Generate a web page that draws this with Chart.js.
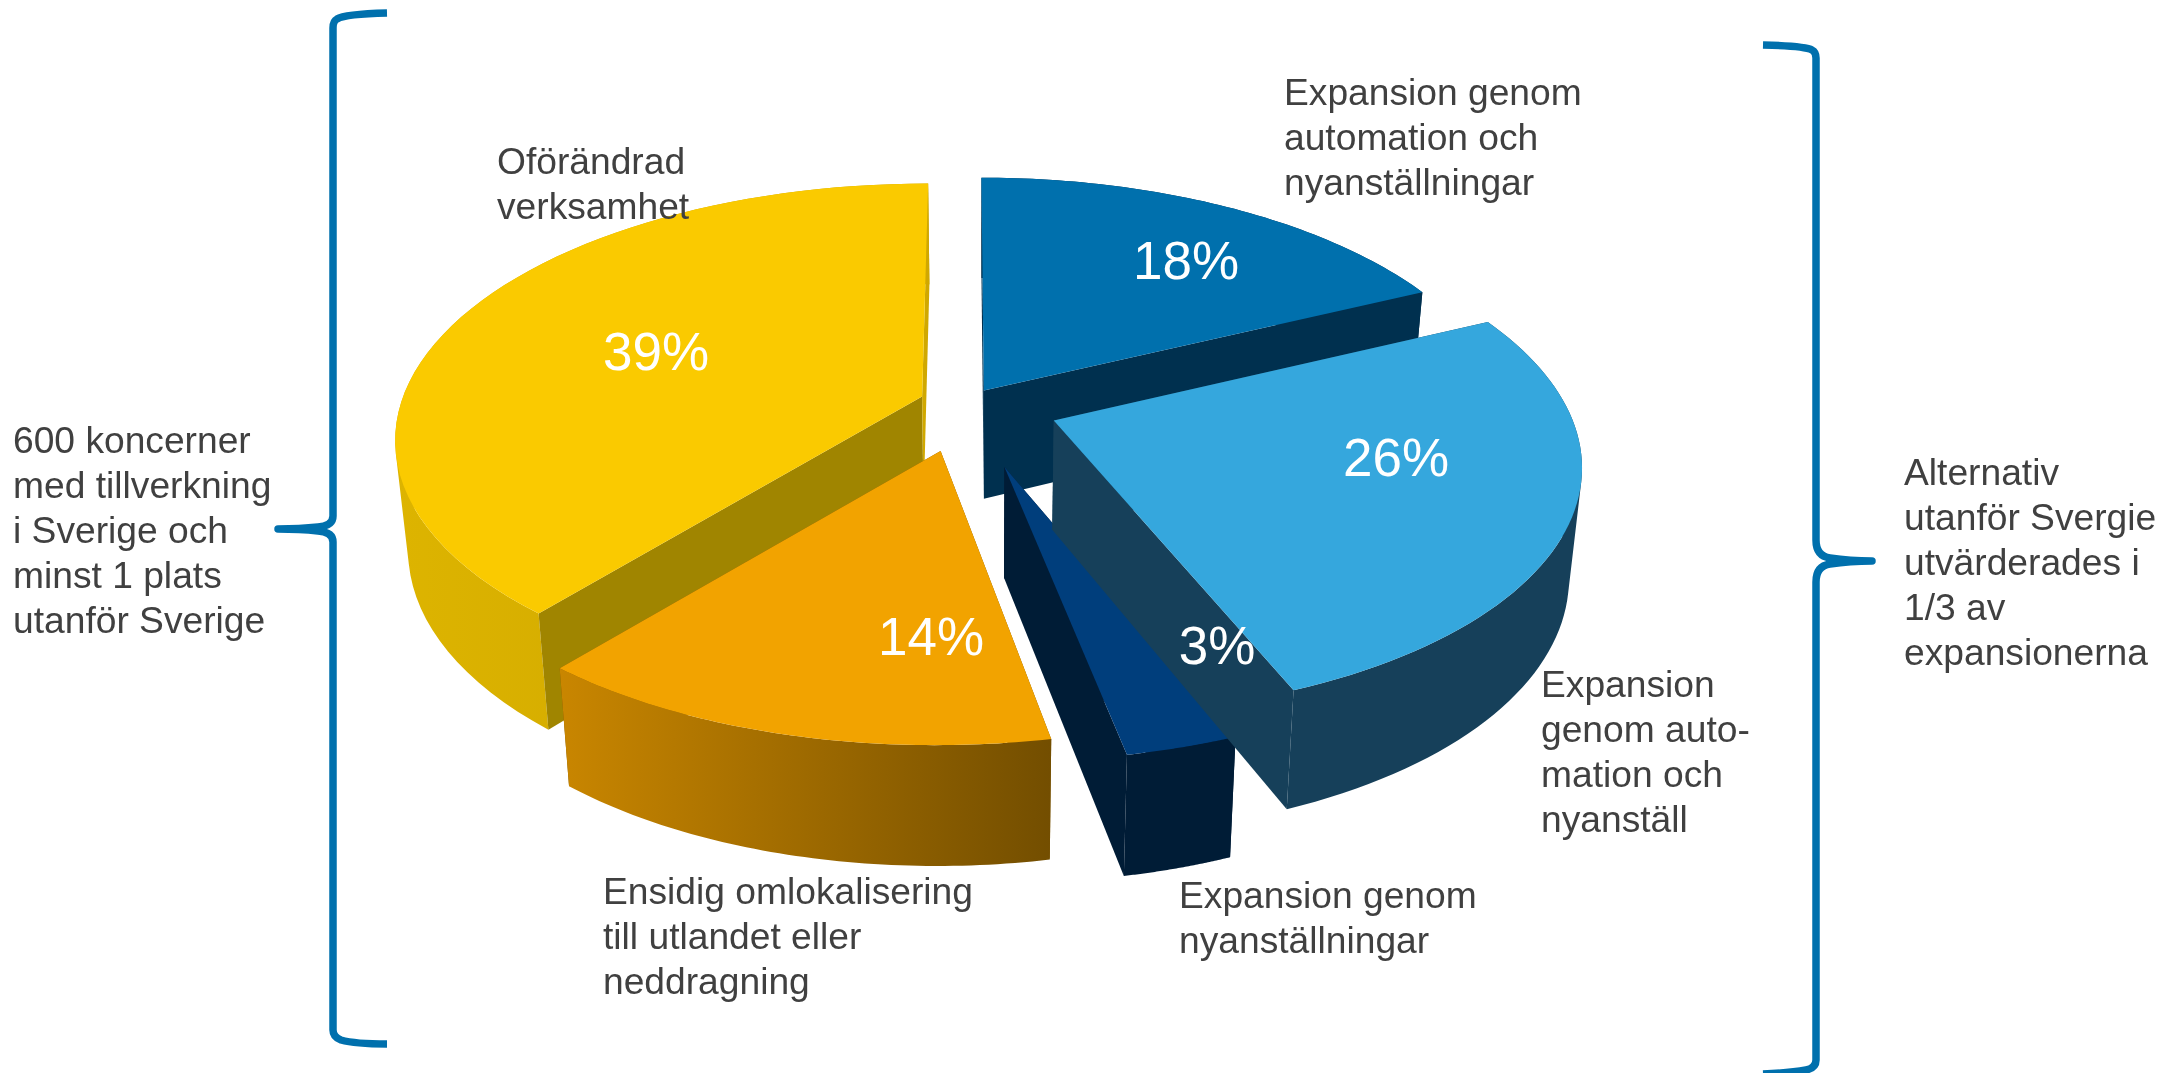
<!DOCTYPE html>
<html lang="sv">

<head>
    <meta charset="UTF-8">
    <title>Alternativ utanför Sverige</title>
    <script src="https://cdn.jsdelivr.net/npm/chart.js"></script>
    <style>
        html, body { margin: 0; padding: 0; background: #fff; overflow: hidden; }
        #wrap { position: relative; width: 2165px; height: 1073px; }
        #pie { position: absolute; left: 0; top: 0; }
        #braces { position: absolute; left: 0; top: 0; }
        .note {
            position: absolute;
            font-family: "Liberation Sans", Arial, sans-serif;
            font-size: 37.2px;
            line-height: 45px;
            color: #404040;
            white-space: pre;
        }
        .pct {
            position: absolute;
            font-family: "Liberation Sans", Arial, sans-serif;
            font-size: 53px;
            line-height: 60px;
            color: #fff;
            transform: translate(-50%, -50%);
        }
    </style>
</head>

<body>
    <div id="wrap">
        <canvas id="pie" width="2165" height="1073"></canvas>
        <svg id="braces" width="2165" height="1073" fill="none" stroke="#0070AD" stroke-width="7.5" stroke-linejoin="round">
            <path d="M387 13 Q345 14 337 19 Q333 21 333 28 L333 516 Q333 526 318 527 Q300 529 278 529 Q300 529 318 531 Q333 532 333 542 L333 1030 Q333 1037 341 1040 Q355 1044 387 1044" />
            <path d="M1763 45 Q1805 46 1812 50 Q1816 52 1816 58 L1816 540 Q1816 556 1830 558 Q1850 561 1872 561 Q1850 561 1830 564 Q1816 566 1816 582 L1816 1060 Q1816 1068 1806 1070 Q1790 1073 1763 1074" />
        </svg>
    </div>

    <script>
        // Values, clockwise from twelve o'clock
        const categories = [
            'Expansion genom automation och nyanställningar',
            'Expansion genom automation och nyanställ',
            'Expansion genom nyanställningar',
            'Ensidig omlokalisering till utlandet eller neddragning',
            'Oförändrad verksamhet'
        ];
        const shares = [18, 26, 3, 14, 39];

        // Styling of the slices, same order as above
        const explode = [90, 255, 372, 276, 126];
        const topColors = ['#0070AD', '#35A7DD', '#003E7C', '#F2A300', '#FACA00'];
        const rimFrom = ['#00304F', '#16405A', '#001C36', '#C98600', '#DDB400'];
        const rimTo = ['#00304F', '#16405A', '#001C36', '#734E00', '#C9A200'];
        const startWallColors = ['#00304F', '#16405A', '#001C36', '#7A5200', '#A08500'];
        const endWallColors = ['#00304F', '#16405A', '#001C36', '#7A5200', '#D0A800'];
        const paintOrder = [0, 4, 2, 1, 3];

        // Where the percent labels sit
        const pctX = [1186, 1396, 1217, 931, 656];
        const pctY = [261, 458, 646, 637, 352];

        const notes = [
            { text: 'Oförändrad\nverksamhet', x: 497, y: 139 },
            { text: 'Expansion genom\nautomation och\nnyanställningar', x: 1284, y: 70 },
            { text: 'Expansion\ngenom auto-\nmation och\nnyanställ', x: 1541, y: 662 },
            { text: 'Expansion genom\nnyanställningar', x: 1179, y: 873 },
            { text: 'Ensidig omlokalisering\ntill utlandet eller\nneddragning', x: 603, y: 869 },
            { text: '600 koncerner\nmed tillverkning\ni Sverige och\nminst 1 plats\nutanför Sverige', x: 13, y: 418 },
            { text: 'Alternativ\nutanför Svergie\nutvärderades i\n1/3 av\nexpansionerna', x: 1904, y: 450 }
        ];

        // Tilted disc: perspective about each slice's own tip
        const view = { cx: 966, cy: 404, a: 519, b: 247, k: 0.16 };

        function project(su, sv, u, v) {
            const f = 1 + view.k * v;
            return [view.cx + view.a * (su + u) / f, view.cy - view.b * sv - view.b * v / f];
        }

        // The underside is the top moved down and pulled in a little
        function drop(p) {
            return [985 + (p[0] - 985) * 0.978, p[1] * 1.036 + 94];
        }

        function tracePoly(ctx, pts) {
            pts.forEach((p, i) => i ? ctx.lineTo(p[0], p[1]) : ctx.moveTo(p[0], p[1]));
            ctx.closePath();
        }

        function fillPoly(ctx, pts, style) {
            ctx.beginPath();
            tracePoly(ctx, pts);
            ctx.fillStyle = style;
            ctx.fill();
        }

        function signedArea(pts) {
            let sum = 0;
            pts.forEach((p, i) => {
                const q = pts[(i + 1) % pts.length];
                sum += p[0] * q[1] - q[0] * p[1];
            });
            return sum;
        }

        // A side wall shows when the extrusion goes away from the slice's top face
        function wallShows(apex, corner, inside) {
            const ex = corner[0] - apex[0];
            const ey = corner[1] - apex[1];
            return ex * (inside[1] - apex[1]) - ey * (inside[0] - apex[0]) < 0 === ex > 0;
        }

        function drawSlice(ctx, arc, i) {
            const { startAngle, endAngle, outerRadius } = arc.getProps(['startAngle', 'endAngle', 'outerRadius'], true);
            const mid = (startAngle + endAngle) / 2;
            const shift = (arc.options.offset || 0) / 4 / outerRadius;
            const su = shift * Math.cos(mid);
            const sv = -shift * Math.sin(mid);
            const point = (r, t) => project(su, sv, r * Math.cos(t), -r * Math.sin(t));

            const rim = [];
            const steps = 60;
            for (let s = 0; s <= steps; s++) {
                rim.push(point(1, startAngle + (endAngle - startAngle) * s / steps));
            }
            const apex = point(0, mid);
            const inside = point(0.5, mid);
            const first = rim[0];
            const last = rim[steps];
            const xs = rim.map(p => p[0]);

            const walls = [
                { pts: [apex, first, drop(first), drop(apex)], color: startWallColors[i], shows: wallShows(apex, first, inside) },
                { pts: [apex, last, drop(last), drop(apex)], color: endWallColors[i], shows: wallShows(apex, last, inside) }
            ];
            walls.filter(w => !w.shows).forEach(w => fillPoly(ctx, w.pts, w.color));

            // all rim quads in one path, same winding, so no seams show between them
            const grad = ctx.createLinearGradient(Math.min(...xs), 0, Math.max(...xs), 0);
            grad.addColorStop(0, rimFrom[i]);
            grad.addColorStop(1, rimTo[i]);
            ctx.beginPath();
            for (let s = 0; s < steps; s++) {
                const quad = [rim[s], rim[s + 1], drop(rim[s + 1]), drop(rim[s])];
                tracePoly(ctx, signedArea(quad) < 0 ? quad.reverse() : quad);
            }
            ctx.fillStyle = grad;
            ctx.fill();

            walls.filter(w => w.shows).forEach(w => fillPoly(ctx, w.pts, w.color));
            fillPoly(ctx, [apex].concat(rim), topColors[i]);
        }

        const tiltedPie = {
            id: 'tiltedPie',
            beforeDatasetsDraw(chart) {
                const meta = chart.getDatasetMeta(0);
                paintOrder.forEach(i => drawSlice(chart.ctx, meta.data[i], i));
                return false;
            }
        };

        new Chart(document.getElementById('pie'), {
            type: 'pie',
            data: {
                labels: categories,
                datasets: [{
                    data: shares,
                    offset: explode,
                    borderWidth: 0,
                    backgroundColor: topColors
                }]
            },
            options: {
                responsive: false,
                animation: false,
                events: [],
                layout: { padding: 0 },
                plugins: {
                    legend: { display: false },
                    tooltip: { enabled: false }
                }
            },
            plugins: [tiltedPie]
        });

        const wrap = document.getElementById('wrap');
        shares.forEach((v, i) => {
            const el = document.createElement('div');
            el.className = 'pct';
            el.textContent = v + '%';
            el.style.left = pctX[i] + 'px';
            el.style.top = pctY[i] + 'px';
            wrap.appendChild(el);
        });
        notes.forEach(n => {
            const el = document.createElement('div');
            el.className = 'note';
            el.textContent = n.text;
            el.style.left = n.x + 'px';
            el.style.top = n.y + 'px';
            wrap.appendChild(el);
        });
    </script>
</body>

</html>
